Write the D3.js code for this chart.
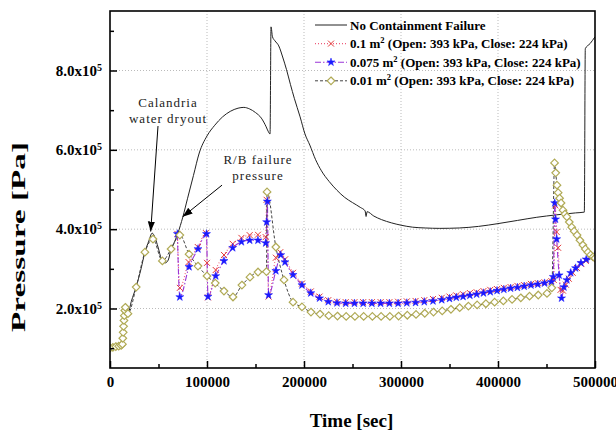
<!DOCTYPE html>
<html>
<head>
<meta charset="utf-8">
<script src="https://cdn.jsdelivr.net/npm/d3@7"></script>
<style>
  body { margin: 0; background: #fff; }
  svg { display: block; font-family: "Liberation Serif", "Times New Roman", serif; }
</style>
</head>
<body>
<div id="chart"></div>
<script>
// ---- data: time [sec], pressure [Pa] ----
const seriesNames = [
  "No Containment Failure",
  "0.1",
  "0.075",
  "0.01"
];
const legendTail = " (Open: 393 kPa, Close: 224 kPa)";

// no containment failure
const tNoFail = [0, 5000, 10000, 12500, 13500, 15500, 18500, 22000, 27000, 32000, 36000, 40000, 43500, 46500, 49500,
  53000, 57000, 60000, 63000, 66500, 70000, 75000, 80000, 86000, 92000, 100000, 108000, 116000, 124000, 132000,
  138000, 144000, 150000, 156000, 161000, 163000, 165000, 166000, 167500, 170000, 174000, 178000, 182000, 186000,
  190000, 196000, 201000, 206000, 212000, 218000, 226000, 234000, 242000, 250000, 258000, 263000, 264000, 265000,
  272000, 280000, 290000, 300000, 312000, 325000, 340000, 360000, 380000, 400000, 420000, 440000, 460000, 480000,
  489000, 490000, 495000, 500000];
const pNoFail = [1.0e5, 1.03e5, 1.06e5, 1.1e5, 1.5e5, 2.0e5, 1.88e5, 2.18e5, 2.55e5, 3.0e5, 3.42e5, 3.7e5, 3.9e5, 3.78e5, 3.55e5,
  3.25e5, 3.15e5, 3.22e5, 3.5e5, 3.68e5, 3.9e5, 4.3e5, 4.78e5, 5.35e5, 5.92e5, 6.35e5, 6.62e5, 6.83e5, 6.97e5, 7.05e5,
  7.07e5, 7.03e5, 6.94e5, 6.8e5, 6.58e5, 6.47e5, 6.4e5, 9.1e5, 8.85e5, 8.75e5, 8.62e5, 8.34e5, 8.02e5, 7.65e5,
  7.3e5, 6.83e5, 6.4e5, 6.12e5, 5.75e5, 5.47e5, 5.2e5, 4.98e5, 4.8e5, 4.67e5, 4.55e5, 4.46e5, 4.32e5, 4.44e5,
  4.33e5, 4.24e5, 4.16e5, 4.1e5, 4.05e5, 4.03e5, 4.02e5, 4.03e5, 4.07e5, 4.14e5, 4.22e5, 4.3e5, 4.36e5, 4.41e5,
  4.43e5, 8.55e5, 8.68e5, 8.85e5];

// 0.1 m2 vent
const t010 = [69500, 72000, 81000, 90500, 99000, 100000, 101000, 109000, 117500, 126500, 135500, 144000, 152500, 160500,
  161500, 163500, 171000, 175500, 180500, 188700, 197900, 207000, 216000, 225000, 234000, 243000, 252000, 261000,
  270000, 279000, 288000, 297000, 306000, 315000, 324000, 333000, 342000, 350000, 357000, 364000, 371000, 378000,
  385000, 392000, 399000, 406000, 413000, 420000, 427000, 434000, 441000, 448000, 455000, 457500, 459000, 460500,
  462000, 464500, 467000, 470000, 473000, 477000, 481500, 486000, 490500, 495000, 500000];
const p010 = [3.88e5, 2.52e5, 3.17e5, 3.55e5, 3.9e5, 3.15e5, 2.28e5, 2.97e5, 3.35e5, 3.63e5, 3.78e5, 3.85e5, 3.86e5, 3.8e5,
  4.74e5, 2.3e5, 3.28e5, 3.42e5, 3.24e5, 2.9e5, 2.63e5, 2.43e5, 2.3e5, 2.21e5, 2.17e5, 2.16e5, 2.16e5, 2.16e5,
  2.16e5, 2.16e5, 2.16e5, 2.17e5, 2.18e5, 2.19e5, 2.21e5, 2.24e5, 2.27e5, 2.3e5, 2.33e5, 2.36e5, 2.39e5, 2.41e5,
  2.44e5, 2.47e5, 2.49e5, 2.52e5, 2.54e5, 2.57e5, 2.59e5, 2.62e5, 2.64e5, 2.66e5, 2.69e5, 2.72e5, 4.6e5, 3.93e5,
  3.53e5, 2.47e5, 2.45e5, 2.6e5, 2.75e5, 2.9e5, 3.02e5, 3.12e5, 3.2e5, 3.27e5, 3.32e5];

// 0.075 m2 vent
const t0075 = [69500, 72000, 81500, 90700, 99500, 101000, 109000, 117500, 126500, 135500, 144000, 152500, 160500, 161500,
  162200, 163500, 171000, 176000, 180400, 188700, 197900, 207000, 216000, 225000, 234000, 243000, 252000, 261000,
  270000, 279000, 288000, 297000, 306000, 315000, 324000, 333000, 342000, 350000, 357000, 364000, 371000, 378000,
  385000, 392000, 399000, 406000, 413000, 420000, 427000, 434000, 441000, 448000, 455000, 457000, 458500, 459300,
  460500, 463000, 465500, 468000, 471000, 475000, 480000, 485500, 491000, 496000, 500000];
const p0075 = [3.88e5, 2.29e5, 3.05e5, 3.5e5, 3.88e5, 2.3e5, 2.82e5, 3.2e5, 3.53e5, 3.68e5, 3.72e5, 3.72e5, 3.65e5, 4.18e5,
  4.7e5, 2.34e5, 2.95e5, 3.35e5, 3.17e5, 2.85e5, 2.59e5, 2.39e5, 2.26e5, 2.17e5, 2.14e5, 2.13e5, 2.13e5, 2.13e5,
  2.13e5, 2.13e5, 2.13e5, 2.13e5, 2.14e5, 2.15e5, 2.17e5, 2.19e5, 2.22e5, 2.25e5, 2.28e5, 2.3e5, 2.33e5, 2.36e5,
  2.39e5, 2.42e5, 2.45e5, 2.48e5, 2.51e5, 2.53e5, 2.56e5, 2.59e5, 2.61e5, 2.64e5, 2.67e5, 2.8e5, 4.66e5, 4.25e5,
  3.75e5, 2.84e5, 2.26e5, 2.54e5, 2.72e5, 2.9e5, 3.02e5, 3.15e5, 3.24e5, 3.3e5, 3.34e5];

// 0.01 m2 vent
const t001 = [0, 3000, 6000, 9000, 11500, 12800, 13200, 13600, 14000, 14400, 14800, 15300, 15800, 18500, 27000, 36000,
  44300, 54000, 63000, 72000, 81500, 90700, 100000, 108500, 117500, 126800, 136000, 144300, 152600, 161300, 161900,
  171000, 179400, 188700, 197900, 207200, 216500, 225500, 234500, 243500, 252500, 261500, 270500, 279500, 288500,
  297500, 306500, 315500, 324500, 333500, 342500, 351500, 360500, 369500, 378500, 387500, 396500, 405500, 414500,
  423500, 432500, 441500, 450500, 455500, 458300, 459500, 460800, 462000, 463500, 465000, 467000, 469000, 471000,
  473500, 476000, 478500, 481500, 484500, 487500, 490000, 492800, 495500, 498000, 500000];
const p001 = [1.0e5, 1.02e5, 1.04e5, 1.05e5, 1.07e5, 1.1e5, 1.25e5, 1.4e5, 1.55e5, 1.7e5, 1.82e5, 1.95e5, 2.03e5, 1.87e5,
  2.54e5, 3.42e5, 3.75e5, 3.2e5, 3.5e5, 3.85e5, 3.37e5, 3.07e5, 2.82e5, 2.64e5, 2.44e5, 2.29e5, 2.59e5, 2.79e5,
  2.92e5, 2.93e5, 4.94e5, 3.55e5, 2.72e5, 2.16e5, 2.04e5, 1.91e5, 1.86e5, 1.82e5, 1.81e5, 1.8e5, 1.8e5, 1.8e5,
  1.8e5, 1.8e5, 1.8e5, 1.81e5, 1.83e5, 1.85e5, 1.88e5, 1.91e5, 1.94e5, 1.98e5, 2.02e5, 2.06e5, 2.09e5, 2.12e5,
  2.16e5, 2.19e5, 2.23e5, 2.27e5, 2.31e5, 2.34e5, 2.38e5, 2.52e5, 5.67e5, 5.42e5, 5.11e5, 4.92e5, 4.78e5, 4.66e5,
  4.48e5, 4.38e5, 4.31e5, 4.18e5, 4.05e5, 3.95e5, 3.85e5, 3.72e5, 3.6e5, 3.5e5, 3.42e5, 3.35e5, 3.3e5, 3.27e5];

const xTicks = [0, 100000, 200000, 300000, 400000, 500000];
const xMinorTicks = [50000, 150000, 250000, 350000, 450000];
const yTicks = [2e5, 4e5, 6e5, 8e5];
const yMinorTicks = [1e5, 3e5, 5e5, 7e5, 9e5];

// annotations (data coordinates)
const notes = [
  { lines: ["Calandria", "water dryout"], at: [59800, 7.08e5], from: [49500, 6.6e5], to: [41950, 3.94e5] },
  { lines: ["R/B failure", "pressure"], at: [152600, 5.64e5], from: [115500, 5.11e5], to: [74900, 4.31e5] }
];

// ---- layout ----
const width = 616, height = 433;
const margin = { top: 11, right: 21, bottom: 65, left: 110 };
const innerWidth = width - margin.left - margin.right;
const innerHeight = height - margin.top - margin.bottom;

const xScale = d3.scaleLinear().domain([0, 500000]).range([0, innerWidth]);
const yScale = d3.scaleLinear().domain([50000, 950000]).range([innerHeight, 0]);

const svg = d3.select("#chart").append("svg")
  .attr("width", width)
  .attr("height", height);

svg.append("defs").append("clipPath").attr("id", "plotclip")
  .append("rect").attr("width", innerWidth).attr("height", innerHeight);

svg.select("defs").append("marker")
  .attr("id", "arrowhead")
  .attr("viewBox", "0 -5 10 10")
  .attr("refX", 10).attr("refY", 0)
  .attr("markerUnits", "userSpaceOnUse")
  .attr("markerWidth", 10).attr("markerHeight", 10)
  .attr("orient", "auto")
  .append("path").attr("d", "M0,-3.6L10,0L0,3.6Z").attr("fill", "#000");

const g = svg.append("g").attr("transform", `translate(${margin.left},${margin.top})`);

// grid
g.append("g").selectAll("line").data(xTicks.slice(1, -1)).join("line")
  .attr("x1", d => xScale(d)).attr("x2", d => xScale(d))
  .attr("y1", 0).attr("y2", innerHeight)
  .attr("stroke", "#bbb").attr("stroke-dasharray", "1,2");
g.append("g").selectAll("line").data(yTicks).join("line")
  .attr("x1", 0).attr("x2", innerWidth)
  .attr("y1", d => yScale(d)).attr("y2", d => yScale(d))
  .attr("stroke", "#bbb").attr("stroke-dasharray", "1,2");

// series styles
const styles = {
  "No Containment Failure": { stroke: "#222", dash: null, width: 1, marker: null },
  "0.1": { stroke: "#ee5a7a", dash: "1,2", width: 1.1, marker: "x" },
  "0.075": { stroke: "#9a36d8", dash: "6,2,1.5,2", width: 1.1, marker: "star" },
  "0.01": { stroke: "#444", dash: "3,2", width: 1, marker: "diamond" }
};

const series = [
  { name: seriesNames[0], pts: d3.zip(tNoFail, pNoFail) },
  { name: seriesNames[1], pts: d3.zip(t010, p010) },
  { name: seriesNames[2], pts: d3.zip(t0075, p0075) },
  { name: seriesNames[3], pts: d3.zip(t001, p001) }
];

const line = d3.line()
  .x(d => xScale(d[0]))
  .y(d => yScale(d[1]))
  .curve(d3.curveMonotoneX);

function drawMarker(sel, type) {
  if (type === "x") {
    sel.append("path").attr("d", "M-3,-3L3,3M-3,3L3,-3")
      .attr("stroke", "#e23a3a").attr("stroke-width", 1).attr("fill", "none");
  } else if (type === "star") {
    sel.append("path").attr("d", d3.symbol(d3.symbolStar, 20))
      .attr("fill", "#1a1aff").attr("stroke", "#1a1aff").attr("stroke-width", 0.5);
  } else if (type === "diamond") {
    sel.append("path").attr("d", "M0,-3.8L3.8,0L0,3.8L-3.8,0Z")
      .attr("fill", "#fff").attr("stroke", "#b0aa55").attr("stroke-width", 1.2);
  }
}

const plot = g.append("g").attr("clip-path", "url(#plotclip)");
series.forEach(s => {
  const st = styles[s.name];
  plot.append("path")
    .datum(s.pts)
    .attr("fill", "none")
    .attr("stroke", st.stroke)
    .attr("stroke-width", st.width)
    .attr("stroke-dasharray", st.dash)
    .attr("d", line);
});
// markers drawn on top of all lines
series.forEach(s => {
  const st = styles[s.name];
  if (!st.marker) return;
  plot.append("g").selectAll("g").data(s.pts).join("g")
    .attr("transform", d => `translate(${xScale(d[0])},${yScale(d[1])})`)
    .call(sel => drawMarker(sel, st.marker));
});

// axes (ticks point inward)
const xAxisG = g.append("g").attr("transform", `translate(0,${innerHeight})`);
xAxisG.append("g").attr("class", "minor")
  .call(d3.axisBottom(xScale).tickValues(xMinorTicks).tickSize(-4).tickFormat(""));
xAxisG.append("g").call(d3.axisBottom(xScale).tickValues(xTicks).tickSize(-7).tickPadding(8).tickFormat(d3.format("d")));
xAxisG.selectAll(".domain").remove();
xAxisG.selectAll(".minor text").remove();
xAxisG.selectAll("line").attr("stroke-width", 1.5);
xAxisG.selectAll("text")
  .attr("font-family", "Liberation Serif").attr("font-weight", "bold")
  .attr("font-size", 15).attr("fill", "#000");

const yAxisG = g.append("g");
yAxisG.append("g").attr("class", "minor")
  .call(d3.axisLeft(yScale).tickValues(yMinorTicks).tickSize(-4).tickFormat(""));
yAxisG.append("g").attr("class", "major")
  .call(d3.axisLeft(yScale).tickValues(yTicks).tickSize(-7).tickPadding(8).tickFormat(""));
yAxisG.selectAll(".domain").remove();
yAxisG.selectAll(".minor text").remove();
yAxisG.selectAll("line").attr("stroke-width", 1.5);
yAxisG.selectAll(".major .tick text")
  .attr("font-family", "Liberation Serif").attr("font-weight", "bold")
  .attr("font-size", 15).attr("fill", "#000")
  .each(function (d) {
    const t = d3.select(this);
    t.append("tspan").text(`${(d / 1e5).toFixed(1)}x10`);
    t.append("tspan").attr("dy", "-0.5em").attr("font-size", 10).text("5");
  });

// frame
g.append("rect")
  .attr("width", innerWidth).attr("height", innerHeight)
  .attr("fill", "none").attr("stroke", "#000").attr("stroke-width", 1.6);

// axis titles
svg.append("text")
  .attr("x", margin.left + innerWidth / 2 - 1)
  .attr("y", 427)
  .attr("text-anchor", "middle")
  .attr("font-weight", "bold").attr("font-size", 19)
  .text("Time [sec]");

svg.append("text")
  .attr("transform", `translate(25,237) rotate(-90)`)
  .attr("text-anchor", "middle")
  .attr("font-weight", "bold").attr("font-size", 18)
  .attr("textLength", 190).attr("lengthAdjust", "spacingAndGlyphs")
  .text("Pressure [Pa]");

// annotations
notes.forEach(n => {
  g.append("line")
    .attr("x1", xScale(n.from[0])).attr("y1", yScale(n.from[1]))
    .attr("x2", xScale(n.to[0])).attr("y2", yScale(n.to[1]))
    .attr("stroke", "#000").attr("stroke-width", 1)
    .attr("marker-end", "url(#arrowhead)");
  const txt = g.append("text")
    .attr("x", xScale(n.at[0])).attr("y", yScale(n.at[1]))
    .attr("text-anchor", "middle")
    .attr("font-size", 13).attr("letter-spacing", 1)
    .attr("fill", "#222");
  n.lines.forEach((l, i) => {
    txt.append("tspan")
      .attr("x", xScale(n.at[0]))
      .attr("dy", i === 0 ? 0 : 16)
      .text(l);
  });
});

// legend
const legend = svg.append("g").attr("transform", "translate(315,25)");
series.forEach((s, i) => {
  const st = styles[s.name];
  const row = legend.append("g").attr("transform", `translate(0,${i * 18.6})`);
  row.append("line")
    .attr("x1", 0).attr("x2", 32)
    .attr("stroke", st.stroke).attr("stroke-width", st.width)
    .attr("stroke-dasharray", st.dash);
  if (st.marker) {
    const m = row.append("g").attr("transform", "translate(16,0)");
    drawMarker(m, st.marker);
  }
  const t = row.append("text")
    .attr("x", 35).attr("y", 4.5)
    .attr("font-weight", "bold").attr("font-size", 13);
  if (i === 0) {
    t.text(s.name);
  } else {
    t.append("tspan").text(`${s.name} m`);
    t.append("tspan").attr("dy", -5).attr("font-size", 8.5).text("2");
    t.append("tspan").attr("dy", 5).text(legendTail);
  }
});
</script>
</body>
</html>
